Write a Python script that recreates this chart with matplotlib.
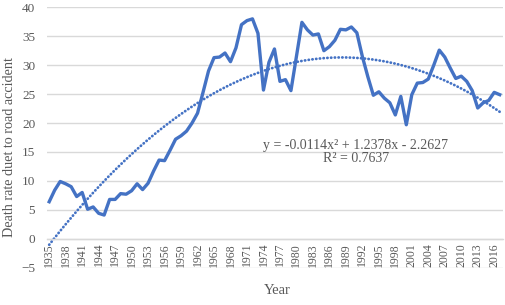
import numpy as np
import matplotlib
matplotlib.use("Agg")
import matplotlib.pyplot as plt

# ================= DATA =================
years = list(range(1935, 2018))
death_rate = [
    6.4, 8.4, 9.9, 9.5, 9.0, 7.3, 8.0, 5.1, 5.5, 4.4,      # 1935-1944
    4.1, 6.8, 6.8, 7.8, 7.7, 8.3, 9.5, 8.5, 9.6, 11.7,     # 1945-1954
    13.6, 13.5, 15.3, 17.2, 17.8, 18.6, 20.0, 21.7, 25.3, 29.0,  # 1955-1964
    31.3, 31.4, 32.1, 30.6, 33.0, 37.0, 37.7, 38.0, 35.5, 25.7,  # 1965-1974
    30.5, 32.8, 27.2, 27.5, 25.6, 31.5, 37.4, 36.1, 35.2, 35.4,  # 1975-1984
    32.5, 33.2, 34.3, 36.2, 36.1, 36.6, 35.6, 31.5, 28.0, 24.8,  # 1985-1994
    25.4, 24.3, 23.5, 21.4, 24.6, 19.7, 24.9, 26.9, 27.0, 27.6,  # 1995-2004
    30.0, 32.6, 31.4, 29.5, 27.7, 28.1, 27.2, 25.6, 22.6, 23.5,  # 2005-2014
    23.9, 25.3, 24.9,                                            # 2015-2017
]
tick_years = list(range(1935, 2018, 3))

# polynomial trendline as printed on the chart (x = 1 for 1935)
coef_a, coef_b, coef_c = -0.0114, 1.2378, -2.2627
r_squared = 0.7637

idx = np.arange(1, len(years) + 1)
trend = coef_a * idx ** 2 + coef_b * idx + coef_c

# ================= PLOT =================
TEXT_GRAY = "#595959"
BLUE = "#4472C4"
SERIF = ["Liberation Serif", "DejaVu Serif"]

fig = plt.figure(figsize=(5.05, 3.05), dpi=100)
ax = fig.add_axes([47 / 505, 37.3 / 305, 456 / 505, 260.4 / 305])

ax.plot(years, death_rate, color=BLUE, linewidth=2.4, solid_joinstyle="round", zorder=3)
ax.plot(years, trend, color=BLUE, linewidth=2.0, linestyle=(0, (0.1, 1.25)),
        dash_capstyle="round", zorder=2)

ax.set_ylim(-5, 40)
ax.set_xlim(1934.6, 2017.6)
ax.grid(axis="y", color="#d9d9d9", linewidth=1.0)
ax.set_axisbelow(True)

for side in ["top", "right", "left"]:
    ax.spines[side].set_visible(False)
# x axis crosses at y = 0, labels hang below it (over the -5 gridline)
ax.spines["bottom"].set_position(("data", 0))
ax.spines["bottom"].set_color("#d9d9d9")
ax.spines["bottom"].set_linewidth(1.0)

ax.set_yticks(range(-5, 41, 5))
ax.set_xticks(tick_years)
ax.set_xticklabels([str(y) for y in tick_years])
ax.tick_params(axis="both", length=0, colors=TEXT_GRAY)
ax.tick_params(axis="x", pad=3, labelrotation=90, labelsize=8.5)
ax.tick_params(axis="y", pad=8.5, labelsize=9.5)
for lbl in ax.get_xticklabels() + ax.get_yticklabels():
    lbl.set_fontfamily(SERIF)

ax.text(1990.8, 16.2, "y = -0.0114x\u00b2 + 1.2378x - 2.2627", color=TEXT_GRAY,
        fontsize=10, family=SERIF, ha="center", va="center")
ax.text(1990.8, 13.9, f"R\u00b2 = {r_squared}", color=TEXT_GRAY,
        fontsize=10, family=SERIF, ha="center", va="center")

fig.text(10 / 505, 1 - 147 / 305, "Death rate duet to road accident", rotation=90,
         color=TEXT_GRAY, fontsize=10.2, family=SERIF, ha="center", va="center")
fig.text(277 / 505, 1 - 290 / 305, "Year", color=TEXT_GRAY, fontsize=10.5,
         family=SERIF, ha="center", va="center")

plt.savefig("out.png", dpi=100)
